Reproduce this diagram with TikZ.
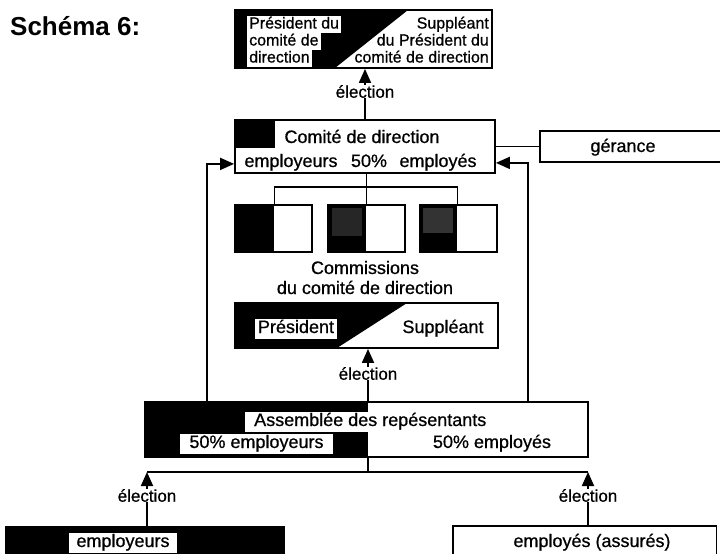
\documentclass[tikz,border=0pt]{standalone}
\usepackage{fontspec}
\setmainfont{Liberation Sans}[UprightFeatures={FakeBold=0.7}]
\usetikzlibrary{arrows.meta,calc}
\begin{document}
\begin{tikzpicture}[x=1pt,y=-1pt,
  lw/.style={line width=1.8pt},
  box/.style={draw, line width=1.8pt, inner sep=0pt, fill=white},
  conn/.style={line width=1.8pt},
  arr/.style={line width=1.8pt, -{Triangle[width=12pt,length=14pt]}},
  txt/.style={font=\fontsize{18}{20}\selectfont, inner sep=0pt},
  ttxt/.style={font=\fontsize{16}{17}\selectfont, inner sep=0pt},
  lab/.style={fill=white, font=\fontsize{18}{20}\selectfont, inner xsep=4pt, inner ysep=1.5pt, text height=13pt, text depth=4pt},
  tlab/.style={fill=white, font=\fontsize{16}{17}\selectfont, inner xsep=2pt, inner ysep=1pt, text height=12pt, text depth=3.5pt},
  elec/.style={font=\fontsize{17}{19}\selectfont, inner sep=0pt, anchor=north},
  blk/.style={fill=black, inner sep=0pt, anchor=north west}
]
\useasboundingbox (0,0) rectangle (720,554);

% title
\node[font=\fontsize{26}{28}\selectfont\bfseries, anchor=base west, inner sep=0pt] (title) at (10,35) {Schéma 6:};

% top box
\node[box, minimum width=257pt, minimum height=58pt] (top) at (363.5,39) {};
\fill (top.north west) -- (408,10) -- (335,68) -- (top.south west) -- cycle;
\node[tlab, anchor=base west] (p1) at (247,28.5) {Président du};
\node[tlab, anchor=base west] (p2) at (247,45.5) {comité de};
\node[tlab, anchor=base west] (p3) at (247,62.5) {direction};
\node[ttxt, anchor=base east] (s1) at (489,28.5) {Suppléant};
\node[ttxt, anchor=base east] (s2) at (489,45.5) {du Président du};
\node[ttxt, anchor=base east] (s3) at (489,62.5) {comité de direction};

% election 1
\node[elec] (e1) at (365,85) {élection};
\draw[arr] (e1.north) -- (e1.north |- top.south);

% comite
\node[box, minimum width=260pt, minimum height=53pt] (com) at (365,146.5) {};
\fill (com.north west) rectangle (275,148);
\draw[conn] (e1.south) -- (e1.south |- com.north);
\node[txt, anchor=base] (comt) at (362,143) {Comité de direction};
\node[txt, anchor=base] (cemp) at (291,167) {employeurs};
\node[txt, anchor=base] (c50) at (369,167) {50\%};
\node[txt, anchor=base] (cemp2) at (438,167) {employés};

% gerance
\node[inner sep=0pt, minimum width=180pt, minimum height=31pt] (ger) at (630,146.5) {};
\draw[lw] (ger.north east) -- (ger.north west) -- (ger.south west) -- (ger.south east);
\node[txt, anchor=base] (gert) at (623,152) {gérance};
\draw[conn] (com.east) -- (ger.west);

% commissions
\node[box, minimum width=77pt, minimum height=47pt] (c1) at (273.5,228.5) {};
\node[box, minimum width=77pt, minimum height=47pt] (c2) at (366.5,228.5) {};
\node[box, minimum width=77pt, minimum height=47pt] (c3) at (458.5,228.5) {};
\node[blk, minimum width=40pt, minimum height=47pt] (c1b) at (c1.north west) {};
\node[blk, minimum width=39pt, minimum height=47pt] (c2b) at (c2.north west) {};
\node[blk, minimum width=38pt, minimum height=47pt] (c3b) at (c3.north west) {};
\fill[black!85] (332,208) rectangle (362,236);
\fill[black!80] (423,208) rectangle (453,233);
\draw[conn] (com.south -| c2b.north east) -- (c2b.north east);
\draw[conn] (c1b.north east) -- ++(0,-17) -| (c3b.north east);
\node[txt, anchor=base] (comm1) at (365,274) {Commissions};
\node[txt, anchor=base] (comm2) at (365,294) {du comité de direction};

% president / suppleant
\node[box, minimum width=263pt, minimum height=45pt] (pres) at (366.5,325.5) {};
\fill (pres.north west) -- (407,303) -- (337,348) -- (pres.south west) -- cycle;
\node[lab, anchor=base, inner xsep=3pt] (prl) at (296,333) {Président};
\node[txt, anchor=base] (sul) at (443,333) {Suppléant};

% election 2
\node[elec] (e2) at (368,367) {élection};
\draw[arr] (e2.north) -- (e2.north |- pres.south);

% assemblee
\node[box, minimum width=443pt, minimum height=55pt] (asm) at (366.5,429.5) {};
\draw[conn] (e2.south) -- (e2.south |- asm.north);
\fill (asm.north west) rectangle (368,457);
\node[lab, anchor=base west, inner xsep=9pt] (asmt) at (245,426) {Assemblée des repésentants};
\node[lab, anchor=base, inner xsep=9.5pt] (a50l) at (256.5,448) {50\% employeurs};
\node[txt, anchor=base] (a50r) at (492,448) {50\% employés};

% side arrows into comite
\draw[arr] ([xshift=63pt]asm.north west) |- ([yshift=10pt]com.south west);
\draw[arr] ([xshift=-61pt]asm.north east) |- ([yshift=11pt]com.south east);

% bottom election
\coordinate (hb) at (368,472);
\node[elec] (e3) at (147,489) {élection};
\node[elec] (e4) at (588,489) {élection};
\draw[conn] (asm.south -| hb) -- (hb);
\draw[conn] (e3 |- hb) -- (e4 |- hb);
\draw[arr] (e3.north) -- (e3.north |- hb);
\draw[arr] (e4.north) -- (e4.north |- hb);

% voters
\node[blk, minimum width=280pt, minimum height=40pt] (empl) at (5,526) {};
\node[lab, anchor=base, inner xsep=7pt] (emplt) at (123,547) {employeurs};
\node[inner sep=0pt, anchor=north west, minimum width=263pt, minimum height=40pt] (empd) at (453,526) {};
\draw[lw] (empd.south west) -- (empd.north west) -- (empd.north east) -- (empd.south east);
\node[txt, anchor=base] (empdt) at (592,547) {employés (assurés)};
\draw[conn] (e3.south) -- (e3.south |- empl.north);
\draw[conn] (e4.south) -- (e4.south |- empd.north);
\end{tikzpicture}
\end{document}
